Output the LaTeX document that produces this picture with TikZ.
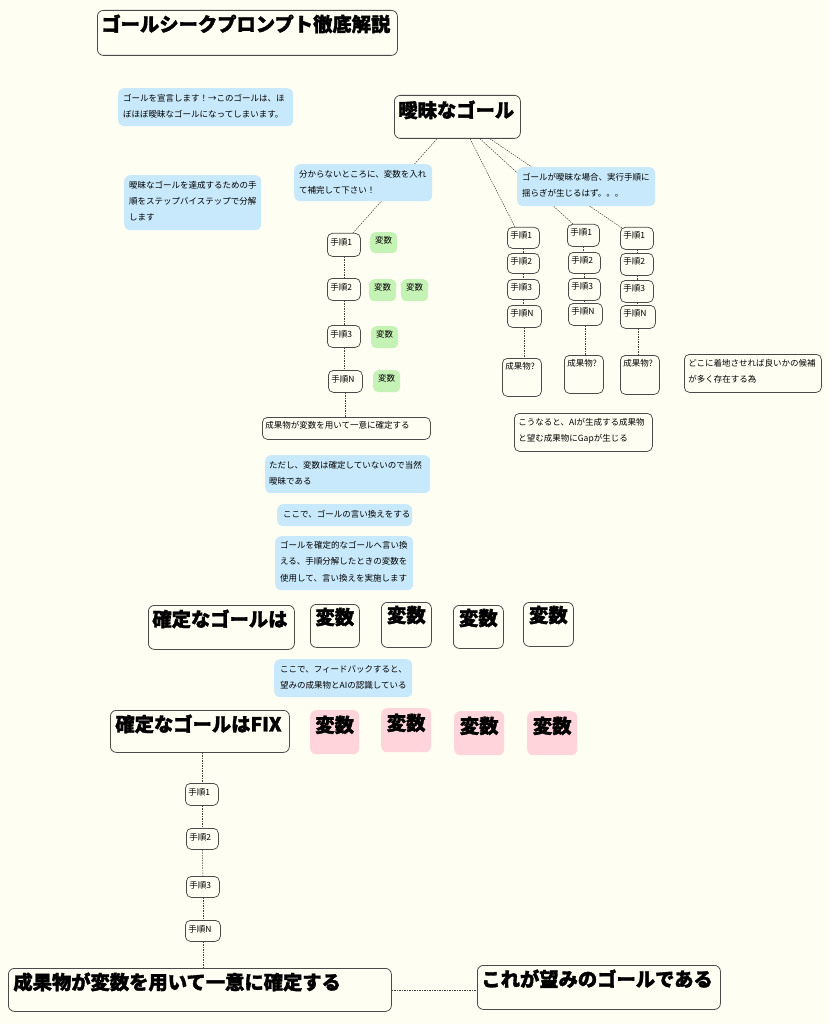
\documentclass[tikz,border=0pt]{standalone}
\usepackage{fontspec}
\setmainfont{Noto Sans CJK JP}[BoldFeatures={FakeBold=1.6}]
\usetikzlibrary{calc}
\definecolor{bgc}{HTML}{FFFEF2}
\definecolor{bluef}{HTML}{C8E9FB}
\definecolor{greenf}{HTML}{C5F2B5}
\definecolor{pinkf}{HTML}{FFD4DA}
\definecolor{edge}{HTML}{4A4A4A}
\newcommand\myS{\fontsize{8.5pt}{16pt}\selectfont}
\newcommand\myB{\bfseries\fontsize{19.3pt}{24pt}\selectfont}
% name, x1, y1, x2, y2, style, first baseline, left pad, text
\newcommand\bx[9]{%
  \pgfmathsetmacro\bw{#4-#2}\pgfmathsetmacro\bh{#5-#3}%
  \node[#6, anchor=north west, inner sep=0pt, minimum width=\bw pt, minimum height=\bh pt] (#1) at (#2,#3)
  {\parbox[c][\bh pt][t]{\bw pt}{\parindent=0pt\leftskip=#8pt\rightskip=0pt plus 1fil\rule{0pt}{#7pt}#9\par}};}
\pgfdeclarelayer{bg}
\pgfdeclarelayer{lines}
\pgfsetlayers{bg,lines,main}
\tikzset{
  wbox/.style={draw=edge, line width=0.8pt, fill=bgc, rounded corners=6pt},
  sbox/.style={draw=edge, line width=0.75pt, fill=bgc, rounded corners=5pt},
  bbox/.style={fill=bluef, rounded corners=6pt},
  gbox/.style={fill=greenf, rounded corners=5pt},
  pbox/.style={fill=pinkf, rounded corners=6pt},
  conn/.style={draw=black!75, line width=0.5pt, dash pattern=on 1.5pt off 1pt},
}
\begin{document}
\begin{tikzpicture}[x=1pt,y=-1pt]
\useasboundingbox (0,0) rectangle (829,1024);
\begin{pgfonlayer}{bg}
\fill[bgc] (0,0) rectangle (829,1024);
\end{pgfonlayer}

% headings and notes
\bx{title}{97}{10}{397}{55}{wbox}{21}{4}{\myB ゴールシークプロンプト徹底解説}
\bx{n1}{118}{88}{293}{126}{bbox}{13}{5}{\myS ゴールを宣言します！→このゴールは、ほ\\ぼほぼ曖昧なゴールになってしまいます。}
\bx{goal}{394}{95}{520}{138}{wbox}{22}{4}{\myB 曖昧なゴール}
\bx{n2}{124}{175}{261}{230}{bbox}{13}{5}{\myS 曖昧なゴールを達成するための手\\順をステップバイステップで分解\\します}
\bx{n3}{294}{164}{432}{201}{bbox}{13}{5}{\myS 分からないところに、変数を入れ\\て補完して下さい！}
\bx{n4}{517}{167}{655}{206}{bbox}{13}{5}{\myS ゴールが曖昧な場合、実行手順に\\揺らぎが生じるはず。。。}

% left column
\bx{l1}{327}{233}{360}{256}{sbox}{12}{3}{\myS 手順1}
\bx{l2}{327}{278}{360}{300}{sbox}{12}{3}{\myS 手順2}
\bx{l3}{327}{325}{360}{347}{sbox}{12}{3}{\myS 手順3}
\bx{lN}{328}{370}{362}{392}{sbox}{12}{3}{\myS 手順N}
\bx{g1}{370}{232}{397}{253}{gbox}{11}{0}{\centering\myS 変数}
\bx{g2a}{369}{279}{396}{301}{gbox}{11}{0}{\centering\myS 変数}
\bx{g2b}{401}{279}{428}{301}{gbox}{11}{0}{\centering\myS 変数}
\bx{g3}{371}{326}{398}{348}{gbox}{11}{0}{\centering\myS 変数}
\bx{g4}{373}{370}{400}{392}{gbox}{11}{0}{\centering\myS 変数}
\bx{lres}{262}{417}{430}{439}{sbox}{11}{3}{\myS 成果物が変数を用いて一意に確定する}

% right columns
\bx{c1s1}{507}{227}{539}{248}{sbox}{11}{3}{\myS 手順1}
\bx{c1s2}{507}{253}{539}{273}{sbox}{11}{3}{\myS 手順2}
\bx{c1s3}{507}{279}{539}{299}{sbox}{11}{3}{\myS 手順3}
\bx{c1sN}{507}{305}{541}{327}{sbox}{11}{3}{\myS 手順N}
\bx{c1r}{502}{358}{541}{396}{sbox}{11}{3}{\myS 成果物?}
\bx{c2s1}{567}{224}{599}{246}{sbox}{11}{3}{\myS 手順1}
\bx{c2s2}{568}{252}{600}{273}{sbox}{11}{3}{\myS 手順2}
\bx{c2s3}{568}{278}{600}{300}{sbox}{11}{3}{\myS 手順3}
\bx{c2sN}{568}{303}{602}{325}{sbox}{11}{3}{\myS 手順N}
\bx{c2r}{564}{355}{603}{393}{sbox}{11}{3}{\myS 成果物?}
\bx{c3s1}{620}{227}{653}{249}{sbox}{11}{3}{\myS 手順1}
\bx{c3s2}{620}{253}{653}{275}{sbox}{11}{3}{\myS 手順2}
\bx{c3s3}{620}{280}{653}{302}{sbox}{11}{3}{\myS 手順3}
\bx{c3sN}{620}{305}{655}{328}{sbox}{11}{3}{\myS 手順N}
\bx{c3r}{620}{355}{659}{394}{sbox}{11}{3}{\myS 成果物?}
\bx{n5}{684}{354}{821}{392}{sbox}{12}{4}{\myS どこに着地させれば良いかの候補\\が多く存在する為}
\bx{n6}{514}{413}{652}{451}{sbox}{12}{4}{\myS こうなると、AIが生成する成果物\\と望む成果物にGapが生じる}

% middle notes
\bx{n7}{265}{455}{430}{493}{bbox}{13}{4}{\myS ただし、変数は確定していないので当然\\曖昧である}
\bx{n8}{277}{504}{412}{526}{bbox}{13}{6}{\myS ここで、ゴールの言い換えをする}
\bx{n9}{275}{536}{413}{590}{bbox}{12}{5}{\fontsize{8.5pt}{16.5pt}\selectfont ゴールを確定的なゴールへ言い換\\える、手順分解したときの変数を\\使用して、言い換えを実施します}

\bx{kg}{148}{605}{294}{649}{wbox}{21}{4}{\myB 確定なゴールは}
\bx{v1}{310}{604}{359}{647}{wbox}{20}{0}{\centering\myB 変数}
\bx{v2}{381}{602}{431}{647}{wbox}{20}{0}{\centering\myB 変数}
\bx{v3}{453}{605}{503}{648}{wbox}{20}{0}{\centering\myB 変数}
\bx{v4}{523}{602}{573}{646}{wbox}{20}{0}{\centering\myB 変数}

\bx{n10}{274}{659}{412}{697}{bbox}{13}{6}{\myS ここで、フィードバックすると、\\望みの成果物とAIの認識している}

\bx{fix}{110}{710}{289}{752}{wbox}{21}{5}{\myB 確定なゴールはFIX}
\bx{p1}{310}{710}{359}{754}{pbox}{22}{0}{\centering\myB 変数}
\bx{p2}{381}{708}{431}{752}{pbox}{22}{0}{\centering\myB 変数}
\bx{p3}{454}{711}{504}{755}{pbox}{22}{0}{\centering\myB 変数}
\bx{p4}{527}{711}{577}{755}{pbox}{22}{0}{\centering\myB 変数}

% bottom column
\bx{b1}{185}{783}{218}{805}{sbox}{12}{3}{\myS 手順1}
\bx{b2}{186}{828}{218}{849}{sbox}{12}{3}{\myS 手順2}
\bx{b3}{186}{876}{219}{897}{sbox}{12}{3}{\myS 手順3}
\bx{bN}{185}{920}{220}{941}{sbox}{12}{3}{\myS 手順N}
\bx{bres}{8}{968}{391}{1011}{wbox}{21}{5}{\myB 成果物が変数を用いて一意に確定する}
\bx{want}{477}{965}{720}{1009}{wbox}{21}{4}{\myB これが望みのゴールである}

% connectors
\begin{pgfonlayer}{lines}
\draw[conn] ([xshift=43pt]goal.south west) -- ([xshift=26pt]l1.north west);
\draw[conn] ([xshift=76pt]goal.south west) -- ([xshift=8pt]c1s1.north west);
\draw[conn] ([xshift=86pt]goal.south west) -- ([xshift=6pt]c2s1.north west);
\draw[conn] ([xshift=96pt]goal.south west) -- ([xshift=2pt,yshift=-1pt]c3s1.north west);
\draw[conn] (l1.south) -- (l2.north);
\draw[conn] (l2.south) -- (l3.north);
\draw[conn] (l3.south) -- (l3.south |- lN.north);
\draw[conn] (lN.south) -- (lN.south |- lres.north);
\draw[conn] (c1s1.south) -- (c1s2.north);
\draw[conn] (c1s2.south) -- (c1s3.north);
\draw[conn] (c1s3.south) -- (c1s3.south |- c1sN.north);
\draw[conn] (c1sN.south) -- (c1sN.south |- c1r.north);
\draw[conn] (c2s1.south) -- (c2s1.south |- c2s2.north);
\draw[conn] (c2s2.south) -- (c2s3.north);
\draw[conn] (c2s3.south) -- (c2s3.south |- c2sN.north);
\draw[conn] (c2sN.south) -- (c2sN.south |- c2r.north);
\draw[conn] (c3s1.south) -- (c3s2.north);
\draw[conn] (c3s2.south) -- (c3s3.north);
\draw[conn] (c3s3.south) -- (c3s3.south |- c3sN.north);
\draw[conn] (c3sN.south) -- (c3sN.south |- c3r.north);
\draw[conn] (fix.south -| b1.north) -- (b1.north);
\draw[conn] (b1.south) -- (b1.south |- b2.north);
\draw[conn] (b2.south) -- (b3.north);
\draw[conn] (b3.south) -- (b3.south |- bN.north);
\draw[conn] (bN.south) -- (bN.south |- bres.north);
\draw[conn] (bres.east) -- (bres.east -| want.west);
\end{pgfonlayer}
\end{tikzpicture}
\end{document}
